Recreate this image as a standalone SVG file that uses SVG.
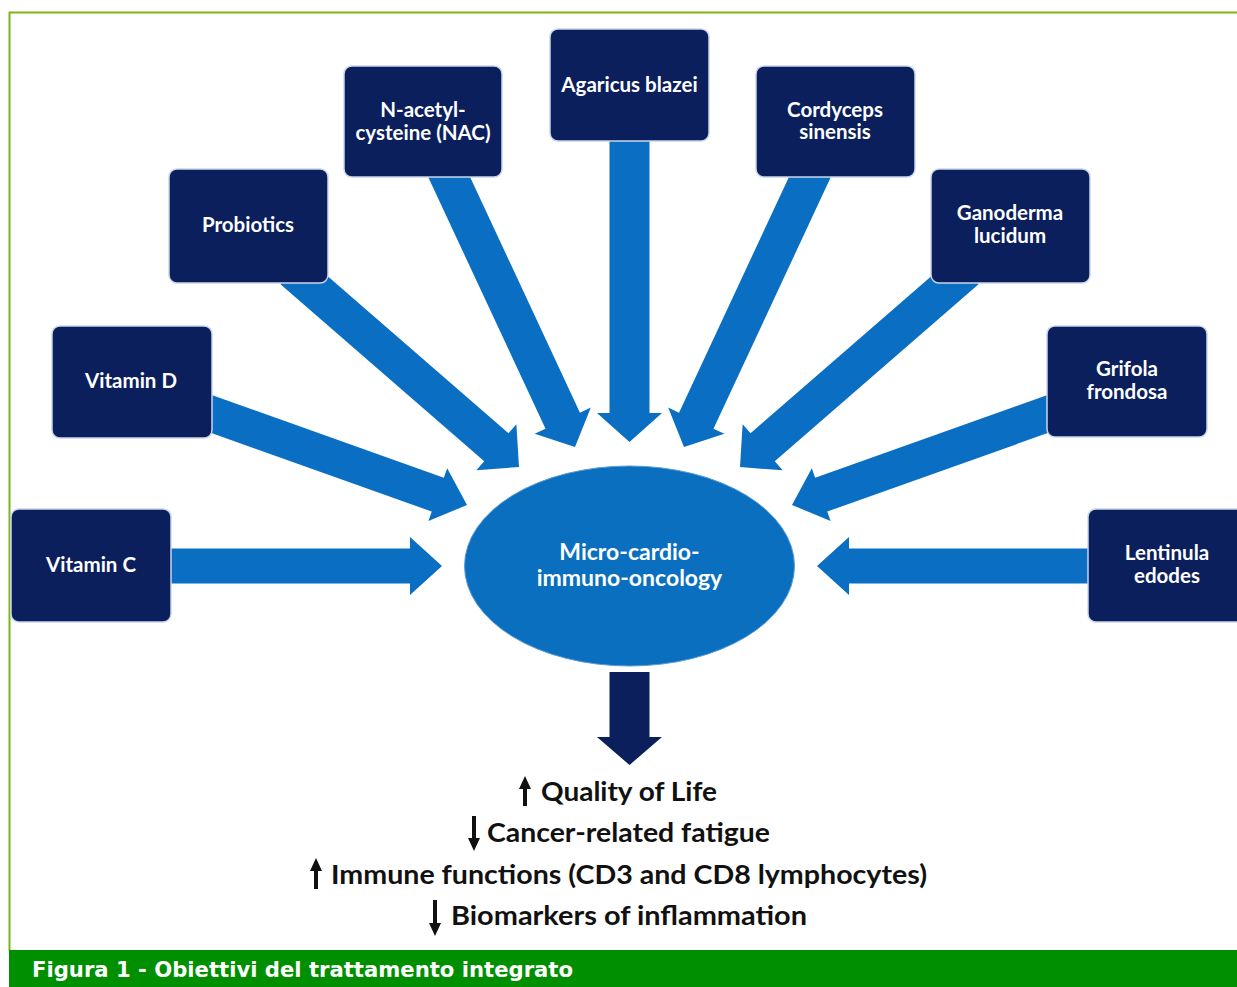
<svg xmlns="http://www.w3.org/2000/svg" width="1237" height="987" viewBox="0 0 1237 987">
<style>
.box{fill:#0b1f5c;stroke:#c9d6ea;stroke-width:1.5}
.bt{font-family:Lato,"Open Sans",sans-serif;font-weight:bold;font-size:20.5px;fill:#ffffff;text-anchor:middle}
.ct{font-family:Lato,"Open Sans",sans-serif;font-weight:bold;font-size:23px;fill:#ffffff;text-anchor:middle}
.arr{fill:#0a6fc2}
.res{font-family:Lato,"Open Sans",sans-serif;font-weight:bold;font-size:26px;fill:#111111}
.sa{fill:#111111}
</style>
<rect x="0" y="0" width="1237" height="987" fill="#ffffff"/>
<g id="frame">
<line x1="9" y1="12.5" x2="1237" y2="12.5" stroke="#7cb518" stroke-width="2"/>
<line x1="9.5" y1="12" x2="9.5" y2="951" stroke="#7cb518" stroke-width="2"/>
</g>
<g id="connectors">
<polygon class="arr" transform="translate(442,566)" points="-280,-17.5 -32,-17.5 -32,-29 0,0 -32,29 -32,17.5 -280,17.5"/>
<polygon class="arr" transform="translate(467,505) rotate(19.6)" points="-285,-18 -31,-18 -31,-28 0,0 -31,28 -31,18 -285,18"/>
<polygon class="arr" transform="translate(519,467) rotate(41)" points="-300,-18.5 -30,-18.5 -30,-30.5 0,0 -30,30.5 -30,18.5 -300,18.5"/>
<polygon class="arr" transform="translate(575,447) rotate(65)" points="-310,-19 -29,-19 -29,-31 0,0 -29,31 -29,19 -310,19"/>
<polygon class="arr" transform="translate(629.5,442) rotate(90)" points="-305,-20 -29,-20 -29,-32.5 0,0 -29,32.5 -29,20 -305,20"/>
<polygon class="arr" transform="translate(684,447) rotate(115)" points="-310,-19 -29,-19 -29,-31 0,0 -29,31 -29,19 -310,19"/>
<polygon class="arr" transform="translate(740,467) rotate(139)" points="-300,-18.5 -30,-18.5 -30,-30.5 0,0 -30,30.5 -30,18.5 -300,18.5"/>
<polygon class="arr" transform="translate(792,505) rotate(160.4)" points="-285,-18 -31,-18 -31,-28 0,0 -31,28 -31,18 -285,18"/>
<polygon class="arr" transform="translate(817,566) rotate(180)" points="-280,-17.5 -32,-17.5 -32,-29 0,0 -32,29 -32,17.5 -280,17.5"/>
<polygon fill="#0b1f5c" transform="translate(629.5,765) rotate(90)" points="-93,-20 -28,-20 -28,-32.5 0,0 -28,32.5 -28,20 -93,20"/>
</g>
<g id="center">
<ellipse cx="629.5" cy="566" rx="165" ry="100" fill="#0b6fc0" stroke="#5a9bd5" stroke-width="1"/>
<text class="ct" x="629.5" y="560">Micro-cardio-</text>
<text class="ct" x="629.5" y="586">immuno-oncology</text>
</g>
<g id="vitamin-c"><rect class="box" x="11" y="509" width="160" height="113" rx="8"/><text class="bt" x="91" y="572">Vitamin C</text></g>
<g id="vitamin-d"><rect class="box" x="52" y="326" width="160" height="112" rx="8"/><text class="bt" x="131" y="388">Vitamin D</text></g>
<g id="probiotics"><rect class="box" x="169" y="169" width="159" height="114" rx="8"/><text class="bt" x="248" y="232">Probiotics</text></g>
<g id="nac"><rect class="box" x="344" y="66" width="158" height="111" rx="8"/><text class="bt" x="423" y="117">N-acetyl-</text><text class="bt" x="423" y="140">cysteine (NAC)</text></g>
<g id="agaricus"><rect class="box" x="550" y="29" width="159" height="112" rx="8"/><text class="bt" x="629.5" y="92">Agaricus blazei</text></g>
<g id="cordyceps"><rect class="box" x="756" y="66" width="159" height="111" rx="8"/><text class="bt" x="835" y="117">Cordyceps</text><text class="bt" x="835" y="139">sinensis</text></g>
<g id="ganoderma"><rect class="box" x="931" y="169" width="159" height="114" rx="8"/><text class="bt" x="1010" y="220">Ganoderma</text><text class="bt" x="1010" y="243">lucidum</text></g>
<g id="grifola"><rect class="box" x="1047" y="326" width="160" height="111" rx="8"/><text class="bt" x="1127" y="376">Grifola</text><text class="bt" x="1127" y="399">frondosa</text></g>
<g id="lentinula"><rect class="box" x="1088" y="509" width="160" height="113" rx="8"/><text class="bt" x="1167" y="560">Lentinula</text><text class="bt" x="1167" y="583">edodes</text></g>
<g id="results">
<path class="sa" d="M525,776 L531,789 L527,789 L527,806 L523,806 L523,789 L519,789 Z"/>
<text class="res" x="541" y="801" textLength="176" lengthAdjust="spacingAndGlyphs">Quality of Life</text>
<path class="sa" d="M474,851 L480,838 L476,838 L476,816 L472,816 L472,838 L468,838 Z"/>
<text class="res" x="487" y="842" textLength="283" lengthAdjust="spacingAndGlyphs">Cancer-related fatigue</text>
<path class="sa" d="M316,858 L322,871 L318,871 L318,889 L314,889 L314,871 L310,871 Z"/>
<text class="res" x="331" y="884" textLength="596" lengthAdjust="spacingAndGlyphs">Immune functions (CD3 and CD8 lymphocytes)</text>
<path class="sa" d="M435,936 L441,923 L437,923 L437,900 L433,900 L433,923 L429,923 Z"/>
<text class="res" x="451" y="925" textLength="356" lengthAdjust="spacingAndGlyphs">Biomarkers of inflammation</text>
</g>
<g id="caption">
<rect x="9" y="950" width="1228" height="37" fill="#008f00"/>
<text x="32" y="977" font-family="'DejaVu Sans Condensed','DejaVu Sans',sans-serif" font-weight="bold" font-size="21" fill="#ffffff" textLength="541" lengthAdjust="spacingAndGlyphs">Figura 1 - Obiettivi del trattamento integrato</text>
</g>
</svg>
